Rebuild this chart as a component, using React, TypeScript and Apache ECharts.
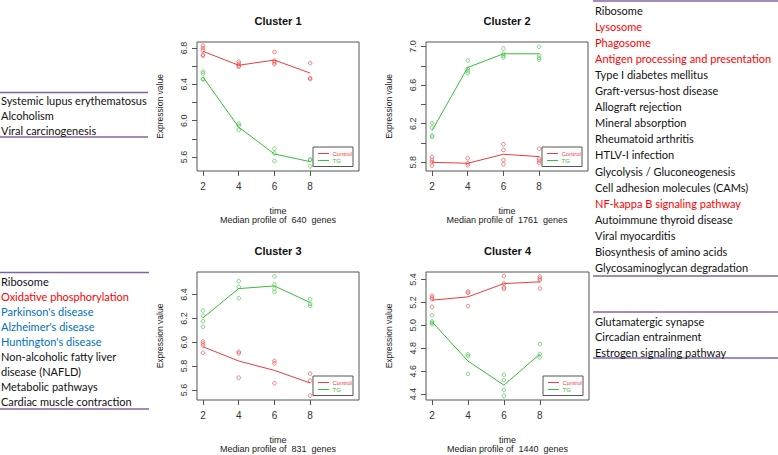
import React, { useEffect, useRef } from "react";
import * as echarts from "echarts";

// ---------- data ----------
const times = [2, 4, 6, 8];
const xTickValues = [2, 4, 6, 8];
const clusterNames = ["Cluster 1", "Cluster 2", "Cluster 3", "Cluster 4"];
const geneCounts = [640, 1761, 831, 1440];
const seriesNames = ["Control", "TG"];

// replicate points per time point (2, 4, 6, 8)
const c1ControlPts = [[6.826, 6.8, 6.774, 6.726, 6.715], [6.649, 6.627, 6.605, 6.594], [6.756, 6.66, 6.642, 6.623], [6.634, 6.469, 6.458]];
const c1ControlLine = [6.763, 6.61, 6.667, 6.524];
const c1TGPts = [[6.539, 6.52, 6.461, 6.454], [5.968, 5.946, 5.898], [5.692, 5.64, 5.556], [5.574, 5.566, 5.497]];
const c1TGLine = [6.48, 5.928, 5.633, 5.549];

const c2ControlPts = [[5.855, 5.824, 5.8, 5.766], [5.842, 5.79, 5.769], [5.987, 5.928, 5.824, 5.779], [5.942, 5.838, 5.817, 5.793]];
const c2ControlLine = [5.8, 5.79, 5.883, 5.859];
const c2TGPts = [[6.205, 6.16, 6.077, 6.063], [6.855, 6.768, 6.744, 6.723], [6.979, 6.924, 6.903, 6.886], [6.997, 6.907, 6.882, 6.862]];
const c2TGLine = [6.129, 6.782, 6.924, 6.924];

const c3ControlPts = [[6.007, 5.99, 5.974, 5.912], [5.92, 5.907, 5.703], [5.843, 5.823, 5.656], [5.737, 5.678, 5.553]];
const c3ControlLine = [5.962, 5.843, 5.764, 5.659];
const c3TGPts = [[6.266, 6.222, 6.177, 6.13], [6.511, 6.464, 6.369], [6.553, 6.484, 6.45, 6.422], [6.361, 6.322, 6.305]];
const c3TGLine = [6.205, 6.45, 6.472, 6.333];

const c4ControlPts = [[5.258, 5.243, 5.228, 5.162], [5.295, 5.284, 5.167], [5.429, 5.365, 5.333, 5.319], [5.426, 5.409, 5.394, 5.322]];
const c4ControlLine = [5.22, 5.249, 5.365, 5.38];
const c4TGPts = [[5.089, 5.034, 5.022, 5.01], [4.746, 4.731, 4.577], [4.569, 4.522, 4.435, 4.385], [4.836, 4.749, 4.72]];
const c4TGLine = [5.031, 4.688, 4.478, 4.749];

// y axis ticks and labelled ticks
const c1YTicks = [5.6, 5.8, 6.0, 6.2, 6.4, 6.6, 6.8];
const c1YLabels = [5.6, 6.0, 6.4, 6.8];
const c2YTicks = [5.8, 6.0, 6.2, 6.4, 6.6, 6.8, 7.0];
const c2YLabels = [5.8, 6.2, 6.6, 7.0];
const c3YTicks = [5.6, 5.8, 6.0, 6.2, 6.4];
const c3YLabels = [5.6, 5.8, 6.0, 6.2, 6.4];
const c4YTicks = [4.4, 4.6, 4.8, 5.0, 5.2, 5.4];
const c4YLabels = [4.4, 4.6, 4.8, 5.0, 5.2, 5.4];
const yRanges = [[5.446, 6.866], [5.71, 7.046], [5.516, 6.589], [4.348, 5.466]];
const xRange = [1.664, 10.736];

// pathway lists
const leftTopItems = ["Systemic lupus erythematosus", "Alcoholism", "Viral carcinogenesis"];
const leftTopColors = ["k", "k", "k"];
const leftBottomItems = ["Ribosome", "Oxidative phosphorylation", "Parkinson's disease", "Alzheimer's disease", "Huntington's disease", "Non-alcoholic fatty liver", "disease (NAFLD)", "Metabolic pathways", "Cardiac muscle contraction"];
const leftBottomColors = ["k", "r", "b", "b", "b", "k", "k", "k", "k"];
const rightTopItems = ["Ribosome", "Lysosome", "Phagosome", "Antigen processing and presentation", "Type I diabetes mellitus", "Graft-versus-host disease", "Allograft rejection", "Mineral absorption", "Rheumatoid arthritis", "HTLV-I infection", "Glycolysis / Gluconeogenesis", "Cell adhesion molecules (CAMs)", "NF-kappa B signaling pathway", "Autoimmune thyroid disease", "Viral myocarditis", "Biosynthesis of amino acids", "Glycosaminoglycan degradation"];
const rightTopColors = ["k", "r", "r", "r", "k", "k", "k", "k", "k", "k", "k", "k", "r", "k", "k", "k", "k"];
const rightBottomItems = ["Glutamatergic synapse", "Circadian entrainment", "Estrogen signaling pathway"];
const rightBottomColors = ["k", "k", "k"];

// ---------- styling / layout ----------
const RED = "#EE3A3A";
const GREEN = "#38BE38";
const PURPLE = "#8064A2";
const colorMap: Record<string, string> = { k: "#111111", r: "#FF0000", b: "#0070C0" };
const LIST_FONT = "Lato";
const LIST_SIZE = 11;
const PLOT_FONT = "Liberation Sans";

const grids = [
  { left: 197, top: 42, width: 162, height: 129 },
  { left: 426, top: 42, width: 162, height: 129 },
  { left: 197, top: 272, width: 162, height: 128 },
  { left: 426, top: 272, width: 163, height: 128 },
];

const clusterData = [
  { cp: c1ControlPts, cl: c1ControlLine, tp: c1TGPts, tl: c1TGLine, yt: c1YTicks, yl: c1YLabels },
  { cp: c2ControlPts, cl: c2ControlLine, tp: c2TGPts, tl: c2TGLine, yt: c2YTicks, yl: c2YLabels },
  { cp: c3ControlPts, cl: c3ControlLine, tp: c3TGPts, tl: c3TGLine, yt: c3YTicks, yl: c3YLabels },
  { cp: c4ControlPts, cl: c4ControlLine, tp: c4TGPts, tl: c4TGLine, yt: c4YTicks, yl: c4YLabels },
];

function flattenPts(pts: number[][]) {
  const out: number[][] = [];
  pts.forEach((arr, i) => arr.forEach((v) => out.push([times[i], v])));
  return out;
}

function listGraphics(items: string[], colors: string[], x: number, y0: number, step: number, lineX1: number, lineX2: number, topLineY: number, bottomLineY: number) {
  const els: any[] = [];
  els.push({ type: "line", shape: { x1: lineX1, y1: topLineY, x2: lineX2, y2: topLineY }, style: { stroke: PURPLE, lineWidth: 1.3 } });
  els.push({ type: "line", shape: { x1: lineX1, y1: bottomLineY, x2: lineX2, y2: bottomLineY }, style: { stroke: PURPLE, lineWidth: 1.3 } });
  items.forEach((t, i) => {
    els.push({
      type: "text",
      style: { text: t, x, y: y0 + step * i, fill: colorMap[colors[i]], fontSize: LIST_SIZE, fontFamily: LIST_FONT, verticalAlign: "middle", align: "left" },
    });
  });
  return els;
}

export default function App() {
  const ref = useRef<HTMLDivElement>(null);
  useEffect(() => {
    if (!ref.current) return;
    const chart = echarts.init(ref.current, undefined, { renderer: "svg" });

    const series: any[] = [];
    const xAxis: any[] = [];
    const yAxis: any[] = [];
    const graphic: any[] = [];

    clusterData.forEach((c, k) => {
      const g = grids[k];
      xAxis.push({
        type: "value", gridIndex: k, min: xRange[0], max: xRange[1],
        name: "time", nameLocation: "middle", nameGap: 35,
        nameTextStyle: { fontSize: 9, fontFamily: PLOT_FONT, color: "#222" },
        axisLine: { show: false }, splitLine: { show: false },
        axisTick: { show: true, inside: false, length: 5, customValues: xTickValues, lineStyle: { color: "#555" } },
        axisLabel: { customValues: xTickValues, margin: 10, fontSize: 10, fontFamily: PLOT_FONT, color: "#333" },
      });
      yAxis.push({
        type: "value", gridIndex: k, min: yRanges[k][0], max: yRanges[k][1],
        name: "Expression value", nameLocation: "middle", nameGap: 33, nameRotate: 90,
        nameTextStyle: { fontSize: 8.5, fontFamily: PLOT_FONT, color: "#222" },
        axisLine: { show: false }, splitLine: { show: false },
        axisTick: { show: true, length: 5, customValues: c.yt, lineStyle: { color: "#555" } },
        axisLabel: { customValues: c.yl, rotate: 90, margin: 9, fontSize: 9, fontFamily: PLOT_FONT, color: "#333", formatter: (v: number) => v.toFixed(1) },
      });
      const mk = (name: string, color: string, pts: number[][], line: number[]) => {
        series.push({
          type: "scatter", name, xAxisIndex: k, yAxisIndex: k, data: flattenPts(pts),
          symbol: "circle", symbolSize: 3.6,
          itemStyle: { color: "rgba(255,255,255,0)", borderColor: color, borderWidth: 0.8 },
        });
        series.push({
          type: "line", name, xAxisIndex: k, yAxisIndex: k, data: times.map((t, i) => [t, line[i]]),
          symbol: "none", lineStyle: { color, width: 1 },
        });
      };
      mk(seriesNames[0], RED, c.cp, c.cl);
      mk(seriesNames[1], GREEN, c.tp, c.tl);

      const cx = g.left + g.width / 2;
      const bottom = g.top + g.height;
      graphic.push({ type: "text", style: { text: clusterNames[k], x: cx, y: g.top - 21, fill: "#111", fontSize: 11, fontWeight: "bold", fontFamily: PLOT_FONT, align: "center", verticalAlign: "middle" } });
      graphic.push({ type: "text", style: { text: "Median profile of  " + geneCounts[k] + "  genes", x: cx, y: bottom + 49, fill: "#222", fontSize: 9, fontFamily: PLOT_FONT, align: "center", verticalAlign: "middle" } });
      // legend box
      const lx = g.left + g.width - 46;
      const ly = bottom - 24;
      graphic.push({ type: "rect", shape: { x: lx, y: ly, width: 40, height: 19.5 }, style: { fill: "#fff", stroke: "#555", lineWidth: 1 }, z: 10 });
      [RED, GREEN].forEach((col, j) => {
        const yy = ly + 6.5 + j * 7;
        graphic.push({ type: "line", shape: { x1: lx + 5, y1: yy, x2: lx + 16, y2: yy }, style: { stroke: col, lineWidth: 1 }, z: 11 });
        graphic.push({ type: "text", style: { text: seriesNames[j], x: lx + 19.5, y: yy, fill: col, fontSize: 6, fontFamily: PLOT_FONT, verticalAlign: "middle" }, z: 11 });
      });
    });

    graphic.push(...listGraphics(leftTopItems, leftTopColors, 1, 100, 15, 0, 148, 92.5, 137));
    graphic.push(...listGraphics(leftBottomItems, leftBottomColors, 1, 281, 15.1, 0, 149, 272.5, 409));
    graphic.push(...listGraphics(rightTopItems, rightTopColors, 595, 10, 16.1, 593, 778, 1, 276));
    graphic.push(...listGraphics(rightBottomItems, rightBottomColors, 595, 321.5, 15.3, 593, 778, 312, 358));

    chart.setOption({
      animation: false,
      backgroundColor: "#fff",
      grid: grids.map((g) => ({ ...g, show: true, borderColor: "#555", borderWidth: 1, backgroundColor: "transparent", containLabel: false })),
      xAxis,
      yAxis,
      series,
      graphic,
    });
    return () => chart.dispose();
  }, []);
  return <div ref={ref} style={{ position: "absolute", left: 0, top: 0, width: 778, height: 455 }} />;
}
